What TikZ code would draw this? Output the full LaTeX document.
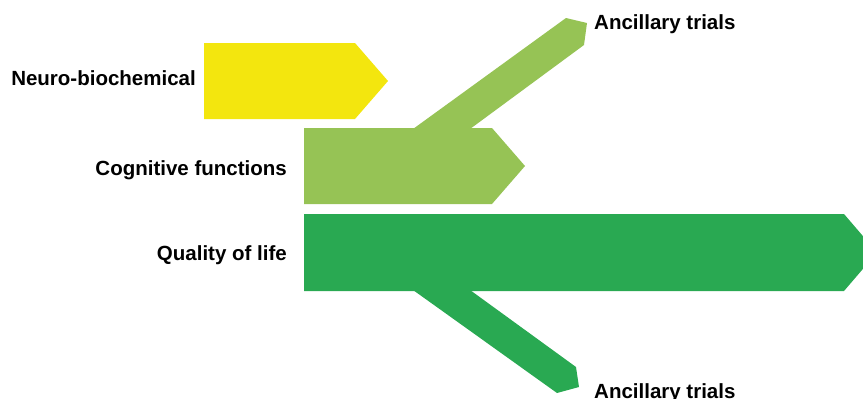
\documentclass[tikz,border=0pt]{standalone}
\usepackage{fontspec}
\setmainfont{Liberation Sans}
\usepackage{tikz}
\definecolor{neuroyellow}{HTML}{F3E60E}
\definecolor{coglight}{HTML}{96C355}
\definecolor{qoldark}{HTML}{29A952}
\newcommand{\lbltext}[1]{{\bfseries\fontsize{20.5}{24}\selectfont #1}}
\tikzset{lbl/.style={inner sep=0pt, anchor=base east},
         trial/.style={inner sep=0pt, anchor=base west}}

\begin{document}
\begin{tikzpicture}[x=1pt, y=-1pt]
    \useasboundingbox (0,0) rectangle (863,399);
    \clip (0,0) rectangle (863,399);

    % boxes
    \fill[neuroyellow] (204,43) -- (355,43) -- (388,81) -- (355,119) -- (204,119) -- cycle;
    \fill[coglight] (304,128) -- (492,128) -- (525,166) -- (492,204) -- (304,204) -- cycle;
    \fill[qoldark] (304,214) -- (844,214) -- (877,252.5) -- (844,291) -- (304,291) -- cycle;

    % branches
    \fill[coglight] (413,129) -- (566,18) -- (587,23) -- (584,45) -- (470,129) -- cycle;
    \fill[qoldark] (413,290) -- (557,393) -- (579,387) -- (576,367) -- (470,290) -- cycle;

    \node[lbl] (neuro) at (196,85) {\lbltext{Neuro-biochemical}};
    \node[lbl] (cog) at (287,175) {\lbltext{Cognitive functions}};
    \node[lbl] (qol) at (287,260) {\lbltext{Quality of life}};

    \node[trial] (trialup) at (594,29) {\lbltext{Ancillary trials}};
    \node[trial] (trialdown) at (594,398) {\lbltext{Ancillary trials}};
\end{tikzpicture}
\end{document}
